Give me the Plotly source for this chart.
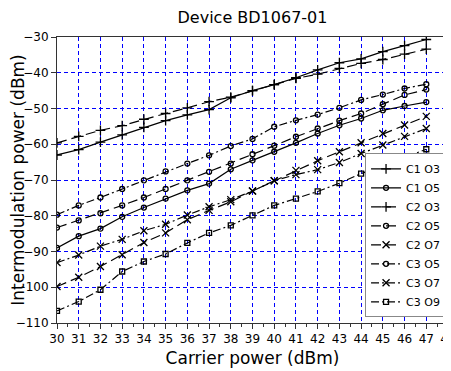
import plotly.graph_objects as go

carrier_power = list(range(30, 48))

c1_o3 = [-63.0, -61.5, -59.4, -57.4, -55.3, -53.4, -51.8, -50.3, -47.0, -45.0,
         -43.3, -41.4, -39.2, -37.2, -36.1, -34.1, -32.4, -30.7]
c1_o5 = [-89.0, -85.7, -83.6, -80.3, -77.7, -75.2, -72.9, -71.0, -67.0, -64.5,
         -62.1, -59.6, -57.0, -54.7, -52.8, -50.5, -49.3, -48.2]
c2_o3 = [-59.6, -57.8, -56.1, -54.8, -53.0, -51.4, -49.8, -48.1, -46.8, -45.0,
         -43.3, -41.6, -40.4, -38.8, -37.4, -36.3, -34.8, -33.4]
c2_o5 = [-83.3, -81.3, -79.3, -77.1, -74.9, -72.5, -70.1, -67.7, -65.4, -62.8,
         -60.4, -57.9, -55.6, -53.4, -51.4, -48.8, -46.2, -44.7]
c2_o7 = [-99.8, -97.2, -94.2, -90.9, -87.5, -84.8, -81.1, -78.5, -76.1, -73.1,
         -70.2, -67.3, -64.6, -62.1, -59.6, -57.0, -54.6, -52.2]
c3_o5 = [-79.7, -77.1, -74.9, -72.5, -70.1, -67.6, -65.4, -63.1, -60.5, -58.5,
         -55.1, -53.3, -51.7, -49.8, -47.6, -46.1, -44.4, -43.2]
c3_o7 = [-93.1, -91.0, -88.5, -86.6, -84.2, -82.4, -79.8, -77.5, -75.5, -73.1,
         -70.2, -68.5, -67.1, -65.1, -62.6, -60.2, -57.8, -55.6]
c3_o9 = [-106.6, -104.0, -100.7, -95.6, -92.8, -90.7, -87.6, -84.8, -82.7, -79.9,
         -77.1, -75.2, -73.2, -70.9, -68.2, -66.0, -63.8, -61.4]

DASH_C2 = "10px,5px"
DASH_C3 = "8px,3px,2px,3px"
series = [
    ("C1 O3", c1_o3, "solid", "cross-thin", 7),
    ("C1 O5", c1_o5, "solid", "circle-open", 5),
    ("C2 O3", c2_o3, DASH_C2, "cross-thin", 7),
    ("C2 O5", c2_o5, DASH_C2, "circle-open", 5),
    ("C2 O7", c2_o7, DASH_C2, "x-thin", 7),
    ("C3 O5", c3_o5, DASH_C3, "circle-open", 5),
    ("C3 O7", c3_o7, DASH_C3, "x-thin", 7),
    ("C3 O9", c3_o9, DASH_C3, "square-open", 5),
]

fig = go.Figure()
for name, ys, dash, sym, size in series:
    fig.add_trace(go.Scatter(
        x=carrier_power, y=ys, name=name, mode="lines+markers",
        line=dict(color="black", width=1.2, dash=dash),
        marker=dict(symbol=sym, size=size, color="black",
                    line=dict(color="black", width=1.3)),
    ))

# page body has an 8px margin, so the figure is sized/offset to compensate
W, H = 443, 363
fnt = "DejaVu Sans, Lucida Grande, sans-serif"
fig.update_layout(
    width=W, height=H,
    margin=dict(l=49, r=3, t=29, b=48),
    paper_bgcolor="white", plot_bgcolor="white",
    font=dict(family=fnt, color="black", size=12),
    title=dict(text="Device BD1067-01", x=0.5, xref="paper", xanchor="center",
               y=1 - 9 / H, yref="container", yanchor="middle",
               font=dict(size=16)),
    legend=dict(x=0.995, y=0.02, xanchor="right", yanchor="bottom",
                bgcolor="white", bordercolor="#888", borderwidth=1,
                font=dict(size=11), tracegroupgap=0),
    showlegend=True,
)
fig.update_xaxes(
    range=[30, 48], dtick=1, tick0=30, automargin=False,
    ticklabeloverflow="allow",
    showgrid=True, gridcolor="blue", griddash="4px,3px", gridwidth=0.8,
    showline=True, linecolor="#333", linewidth=1, mirror=True,
    ticks="outside", ticklen=5, tickcolor="#333",
    minor=dict(dtick=0.5, ticks="outside", ticklen=3, tickcolor="#333", showgrid=False),
    zeroline=False,
    title=dict(text="Carrier power (dBm)", font=dict(size=17), standoff=6),
    tickfont=dict(size=12),
)
fig.update_yaxes(
    range=[-110, -30], dtick=10, automargin=False,
    showgrid=True, gridcolor="blue", griddash="4px,3px", gridwidth=0.8,
    showline=True, linecolor="#333", linewidth=1, mirror=True,
    ticks="outside", ticklen=5, tickcolor="#333",
    zeroline=False,
    title=dict(text="Intermodulation power (dBm)", font=dict(size=17), standoff=4),
    tickfont=dict(size=12),
)

fig.write_html("out.html")
